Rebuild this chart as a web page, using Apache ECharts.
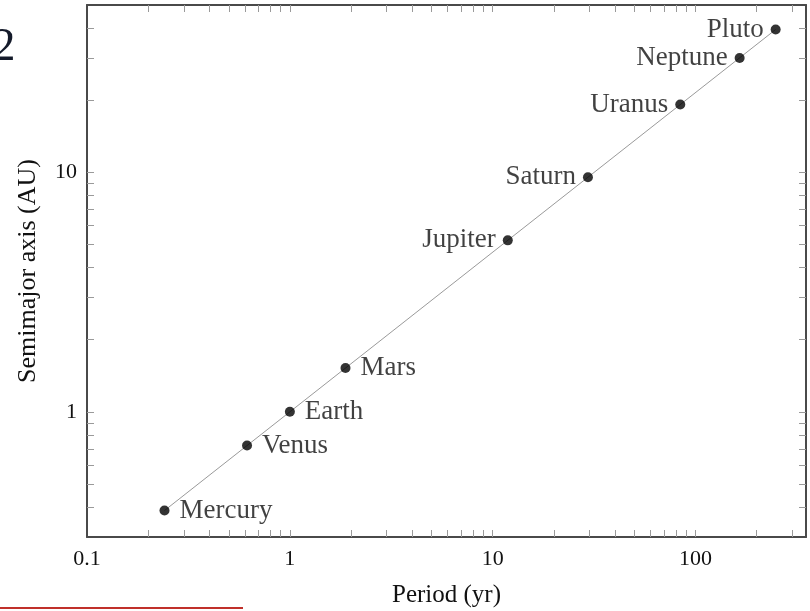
<!DOCTYPE html>
<html>
<head>
<meta charset="utf-8">
<script src="https://cdn.jsdelivr.net/npm/echarts@6/dist/echarts.min.js"></script>
<style>
html,body{margin:0;padding:0;background:#fff;}
#chart{width:810px;height:611px;}
</style>
</head>
<body>
<div id="chart"></div>
<script>
// Data
const planets = ['Mercury','Venus','Earth','Mars','Jupiter','Saturn','Uranus','Neptune','Pluto'];
const periodYr = [0.241, 0.615, 1.0, 1.88, 11.86, 29.46, 84.0, 164.8, 248];
const semimajorAU = [0.387, 0.723, 1.0, 1.524, 5.2, 9.54, 19.2, 30.06, 39.5];
const labelSide = ['right','right','right','right','left','left','left','left','left'];
const fitX = [0.241, 248];
const fitY = [0.387, 39.5];
const xTickLabels = [0.1, 1, 10, 100];
const yTickLabels = [1, 10];
const xMinorTicks = [0.2,0.3,0.4,0.5,0.6,0.7,0.8,0.9,1,2,3,4,5,6,7,8,9,10,20,30,40,50,60,70,80,90,100,200,300];
const yMinorTicks = [0.4,0.5,0.6,0.7,0.8,0.9,1,2,3,4,5,6,7,8,9,10,20,30,40];

const serif = "'Liberation Serif','DejaVu Serif','Times New Roman',serif";
const frame = {show:true, lineStyle:{color:'#4a4a4a', width:2}};
const tick = (vals)=>({show:true, inside:true, length:7, customValues:vals, lineStyle:{color:'#9a9a9a', width:1}});

const chart = echarts.init(document.getElementById('chart'), null, {renderer:'canvas'});
chart.setOption({
  animation:false,
  backgroundColor:'#fff',
  grid:{left:87, right:4, top:5, bottom:74, containLabel:false, outerBoundsMode:'none'},
  xAxis:[{
    type:'log', logBase:10, min:0.1, max:350, position:'bottom',
    axisLine:frame, axisTick:tick(xMinorTicks), splitLine:{show:false}, minorTick:{show:false},
    axisLabel:{customValues:xTickLabels, margin:11, fontFamily:serif, fontSize:22, color:'#111'},
    name:'Period (yr)', nameLocation:'middle', nameGap:46,
    nameTextStyle:{fontFamily:serif, fontSize:25, color:'#111'}
  },{
    type:'log', logBase:10, min:0.1, max:350, position:'top',
    axisLine:frame, axisTick:tick(xMinorTicks), axisLabel:{show:false}, splitLine:{show:false}
  }],
  yAxis:[{
    type:'log', logBase:10, min:0.3, max:50, position:'left',
    axisLine:frame, axisTick:tick(yMinorTicks), splitLine:{show:false}, minorTick:{show:false},
    axisLabel:{customValues:yTickLabels, margin:10, fontFamily:serif, fontSize:22, color:'#111'},
    name:'Semimajor axis (AU)', nameLocation:'middle', nameGap:46, nameRotate:90,
    nameTextStyle:{fontFamily:serif, fontSize:26, color:'#111'}
  },{
    type:'log', logBase:10, min:0.3, max:50, position:'right',
    axisLine:frame, axisTick:tick(yMinorTicks), axisLabel:{show:false}, splitLine:{show:false}
  }],
  series:[{
    type:'line', xAxisIndex:0, yAxisIndex:0,
    data: fitX.map((x,i)=>[x, fitY[i]]),
    symbol:'none', lineStyle:{color:'#9a9a9a', width:1}, z:1, silent:true
  },{
    type:'scatter', xAxisIndex:0, yAxisIndex:0,
    symbol:'circle', symbolSize:10, itemStyle:{color:'#000'}, z:3,
    data: planets.map((p,i)=>({
      value:[periodYr[i], semimajorAU[i]], name:p,
      label:{show:true, position:labelSide[i], distance:labelSide[i]==='right'?10:7, formatter:p,
             fontFamily:serif, fontSize:27, color:'#111'}
    }))
  }],
  graphic:[
    {type:'text', left:-8, top:24, style:{text:'2', fontFamily:serif, fontSize:47, fill:'#141a2a'}},
    {type:'rect', shape:{x:0, y:607, width:243, height:2}, style:{fill:'#c0302a'}}
  ]
});
</script>
</body>
</html>
